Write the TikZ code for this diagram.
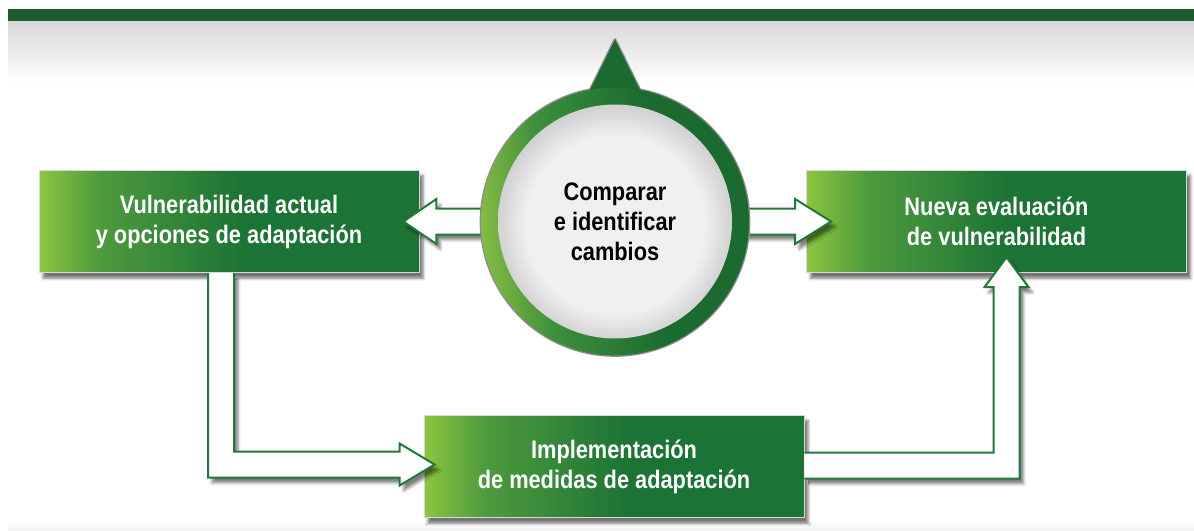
\documentclass[tikz,border=0pt]{standalone}
\usepackage{fontspec}
\setmainfont[FakeStretch=0.86]{Liberation Sans}
\usetikzlibrary{calc, shadows.blur}
\definecolor{bandgreen}{HTML}{1E5C30}
\definecolor{boxlight}{HTML}{8DC63F}
\definecolor{boxmid}{HTML}{4E9A3E}
\definecolor{boxdark}{HTML}{1B7335}
\definecolor{ringlight}{HTML}{86BC45}
\definecolor{ringmid}{HTML}{3C8F3C}
\definecolor{ringdark}{HTML}{1B6A30}
\definecolor{arrowgreen}{HTML}{20793A}
\definecolor{disk}{HTML}{F0F0F0}
\definecolor{diskedge}{HTML}{D2D2D2}
\pgfdeclarehorizontalshading{boxshade}{100bp}{color(0bp)=(boxlight); color(25bp)=(boxlight); color(33bp)=(boxmid); color(52bp)=(boxdark); color(100bp)=(boxdark)}
\pgfdeclareverticalshading{ringshade}{100bp}{color(0bp)=(ringlight); color(25bp)=(ringlight); color(37bp)=(ringmid); color(58bp)=(ringdark); color(100bp)=(ringdark)}
\pgfdeclareradialshading{diskshade}{\pgfpoint{0bp}{-1bp}}{color(0bp)=(disk); color(19bp)=(disk); color(25bp)=(diskedge); color(50bp)=(diskedge)}

\begin{document}
\begin{tikzpicture}[x=0.75pt, y=-0.75pt,
    box/.style={shade, shading=boxshade, draw=white!85!black, line width=0.6pt,
        minimum width=285pt, minimum height=77pt, inner sep=0pt,
        text=white, align=center, font=\fontsize{19}{22.5}\selectfont\bfseries,
        blur shadow={shadow xshift=3pt, shadow yshift=-4pt, shadow opacity=55}},
    barrow/.style={fill=white, draw=arrowgreen, line width=1.5pt, line join=miter,
        blur shadow={shadow xshift=3pt, shadow yshift=-4pt, shadow opacity=50}},
    outline/.style={draw=black!45, line width=2pt, line join=round}]
    \useasboundingbox (0,0) rectangle (1194,531);

    % header band
    \fill[bandgreen] (8,9) rectangle (1194,22);
    \shade[top color=black!15, bottom color=white] (8,22) rectangle (1194,82);
    \shade[top color=white, bottom color=black!5] (8,519) rectangle (1194,531);

    % boxes
    \node[box] (vuln) at (229,221.5) {Vulnerabilidad actual\\y opciones de adaptación};
    \node[box] (nueva) at (996.5,221.5) {Nueva evaluación\\de vulnerabilidad};
    \node[box] (impl) at (614,466.5) {Implementación\\de medidas de adaptación};

    \coordinate (cc) at (615,221.5);

    % arrows out of the circle
    \coordinate (tipL) at ($(vuln.east)+(-16,0)$);
    \filldraw[barrow] ($(cc)+(-100,-13)$) -- ($(tipL)+(33,-13)$) -- ($(tipL)+(33,-22.5)$) -- (tipL)
        -- ($(tipL)+(33,22.5)$) -- ($(tipL)+(33,13)$) -- ($(cc)+(-100,13)$);
    \coordinate (tipR) at ($(nueva.west)+(25,0)$);
    \filldraw[barrow] ($(cc)+(100,-13)$) -- ($(tipR)+(-36,-13)$) -- ($(tipR)+(-36,-22.5)$) -- (tipR)
        -- ($(tipR)+(-36,22.5)$) -- ($(tipR)+(-36,13)$) -- ($(cc)+(100,13)$);

    % vuln -> impl
    \coordinate (dnA) at ($(vuln.south)+(-8,0)$);
    \coordinate (tipI) at ($(impl.west)+(11,-2)$);
    \filldraw[barrow] ($(dnA)+(-13,0)$) -- ($(dnA |- tipI)+(-13,13)$) -- ($(tipI)+(-35,13)$)
        -- ($(tipI)+(-35,21)$) -- (tipI) -- ($(tipI)+(-35,-21)$) -- ($(tipI)+(-35,-13)$)
        -- ($(dnA |- tipI)+(13,-13)$) -- ($(dnA)+(13,0)$);

    % impl -> nueva
    \coordinate (rtA) at ($(impl.east)+(0,-1)$);
    \coordinate (tipN) at ($(nueva.south)+(10,-16)$);
    \filldraw[barrow] ($(rtA)+(0,-13)$) -- ($(tipN |- rtA)+(-13,-13)$) -- ($(tipN)+(-13,30)$)
        -- ($(tipN)+(-22,30)$) -- (tipN) -- ($(tipN)+(22,30)$) -- ($(tipN)+(13,30)$)
        -- ($(tipN |- rtA)+(13,13)$) -- ($(rtA)+(0,13)$);

    % circle with pointer
    \draw[outline] (cc) circle[radius=134];
    \draw[outline] ($(cc)+(-102:130)$) -- ($(cc)+(0,-182)$) -- ($(cc)+(-78:130)$);
    \fill[ringdark] ($(cc)+(-102:130)$) -- ($(cc)+(0,-182)$) -- ($(cc)+(-78:130)$) -- cycle;
    \shade[shading=ringshade, shading angle=-85] (cc) circle[radius=134];
    \shade[shading=diskshade] (cc) circle[radius=117];
    \node[font=\fontsize{19}{22.5}\selectfont\bfseries, align=center] (comp) at (cc) {Comparar\\e identificar\\cambios};
\end{tikzpicture}
\end{document}
